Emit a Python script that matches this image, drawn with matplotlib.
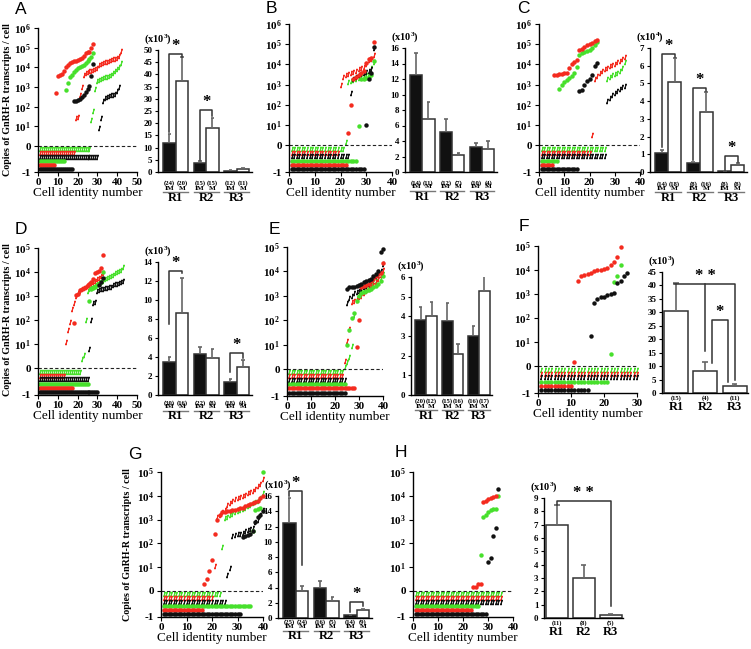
import numpy as np
import matplotlib
matplotlib.use("Agg")
import matplotlib.pyplot as plt
from matplotlib.transforms import offset_copy

plt.rcParams["font.family"] = "Liberation Serif"
plt.rcParams["font.weight"] = "bold"
plt.rcParams["mathtext.fontset"] = "custom"
plt.rcParams["mathtext.rm"] = "Liberation Serif:bold"
plt.rcParams["mathtext.it"] = "Liberation Serif:bold"
plt.rcParams["mathtext.bf"] = "Liberation Serif:bold"
plt.rcParams["axes.linewidth"] = 1.0

# ---- single-cell data: log10(copies / cell) of detected cells, per series ----
# undetected counts order: green tick, red tick, black tick, green dot, red dot, black dot
a_undetected = [26, 18, 30, 13, 8, 17]
a_green_tick = [1.3, 1.8, 2.9, 3.3, 3.35, 3.4, 3.45, 3.5, 3.5, 3.55, 3.6, 3.7, 3.8, 3.9, 4.0, 4.2]
a_red_tick = [1.4, 1.5, 2.6, 3.0, 3.6, 3.7, 3.75, 3.8, 3.8, 3.85, 3.9, 3.95, 4.1, 4.15, 4.2, 4.25,
              4.25, 4.3, 4.35, 4.4, 4.4, 4.45, 4.6, 4.85]
a_black_tick = [0.9, 1.45, 2.3, 2.45, 2.5, 2.55, 2.6, 2.6, 2.65, 2.8, 3.0]
a_green_dot = [2.85, 3.2, 3.5, 3.6, 3.75, 3.85, 3.95, 4.0, 4.05, 4.1, 4.2, 4.3, 4.4, 4.55, 4.75]
a_red_dot = [2.7, 3.55, 3.6, 3.65, 3.8, 4.0, 4.1, 4.2, 4.25, 4.3, 4.3, 4.35, 4.4, 4.5, 4.6, 4.75,
             4.8, 4.8, 5.0, 5.2]
a_black_dot = [2.3, 2.3, 2.35, 2.4, 2.5, 2.6, 2.75, 2.9, 3.05, 3.55, 4.15]

b_undetected = [21, 19, 23, 26, 22, 29]
b_green_tick = [0.15, 3.15, 3.2, 3.25, 3.3, 3.35, 3.4, 3.45, 3.5, 3.6, 3.8, 4.1]
b_red_tick = [3.0, 3.4, 3.5, 3.55, 3.6, 3.65, 3.7, 3.75, 3.8, 3.85, 4.0, 4.2, 4.25, 4.45]
b_black_tick = [2.6, 3.3, 3.4, 3.5, 3.55, 3.6, 3.65, 3.7, 3.75, 4.8]
b_green_dot = [0.95, 3.3, 3.3, 3.35, 3.4, 3.5, 4.15]
b_red_dot = [0.6, 2.0, 3.3, 3.4, 3.5, 3.6, 3.7, 4.05, 4.25, 4.3, 5.1]
b_black_dot = [1.0, 3.3, 3.6, 4.85]

c_undetected = [26, 20, 26, 7, 5, 15]
c_green_tick = [3.3, 3.4, 3.5, 3.55, 3.6, 3.7, 3.8, 4.1]
c_red_tick = [0.5, 3.3, 3.45, 3.6, 3.7, 3.75, 3.8, 3.9, 3.95, 4.0, 4.1, 4.15, 4.25, 4.35]
c_black_tick = [2.2, 2.35, 2.5, 2.6, 2.7, 2.8, 2.9, 2.95]
c_green_dot = [2.8, 3.0, 3.15, 3.25, 3.35, 3.45, 3.6, 3.85, 4.45, 4.55, 4.6, 4.65, 4.7, 4.8, 4.95, 5.1]
c_red_dot = [3.5, 3.5, 3.55, 3.55, 3.6, 3.6, 3.8, 4.0, 4.1, 4.2, 4.7, 4.75, 4.85, 4.95, 5.0, 5.05,
             5.15, 5.2]
c_black_dot = [2.7, 2.75, 3.0, 3.2, 3.3, 3.5, 3.9, 4.05]

d_undetected = [21, 13, 25, 25, 17, 30]
d_green_tick = [0.4, 0.55, 2.0, 3.2, 3.3, 3.35, 3.4, 3.45, 3.5, 3.55, 3.6, 3.65, 3.7, 3.75, 3.8,
                3.85, 3.9, 3.95, 4.0, 4.05, 4.1, 4.2]
d_red_tick = [1.1, 1.6, 1.95, 2.45, 2.7, 3.0, 3.15, 3.2, 3.3, 3.35, 3.4, 3.45, 3.5, 3.55, 3.6,
              3.65, 3.7, 3.75, 3.85, 3.95]
d_black_tick = [0.8, 2.0, 2.7, 2.75, 3.2, 3.25, 3.3, 3.3, 3.35, 3.35, 3.4, 3.4, 3.45, 3.5, 3.5,
                3.55, 3.6, 3.65]
d_green_dot = [2.8, 3.3, 3.35, 3.4, 3.45, 3.5, 3.6, 4.0]
d_red_dot = [1.9, 3.05, 3.1, 3.25, 3.3, 3.35, 3.4, 3.45, 3.5, 3.6, 3.7, 3.95, 4.0, 4.05, 4.15, 4.7]
d_black_dot = [3.45, 3.6, 3.75]

e_undetected = [23, 23, 24, 24, 28, 24]
e_green_tick = [0.1, 0.3, 0.5, 0.95, 2.2, 2.9, 3.05, 3.15, 3.25, 3.3, 3.4, 3.5, 3.55, 3.6, 3.7,
                3.75, 3.9]
e_red_tick = [0.35, 1.15, 1.65, 2.75, 2.8, 2.85, 2.95, 3.0, 3.1, 3.2, 3.3, 3.35, 3.45, 3.55, 3.7,
              3.85, 4.05]
e_black_tick = [2.7, 2.9, 3.0, 3.1, 3.15, 3.2, 3.3, 3.35, 3.4, 3.5, 3.6, 3.7, 3.8, 3.9, 4.0, 4.3]
e_green_dot = [1.0, 1.6, 2.1, 2.3, 2.8, 3.0, 3.1, 3.15, 3.2, 3.25, 3.3, 3.35, 3.4, 3.5, 3.6, 3.8]
e_red_dot = [0.9, 2.0, 3.35, 3.4, 3.45, 3.5, 3.6, 3.7, 3.8, 3.9, 3.95, 4.35]
e_black_dot = [3.3, 3.35, 3.35, 3.37, 3.4, 3.45, 3.5, 3.55, 3.6, 3.65, 3.7, 3.8, 3.9, 4.0, 4.8, 4.9]

f_undetected = [30, 30, 30, 21, 10, 15]
f_green_tick = []
f_red_tick = []
f_black_tick = []
f_green_dot = [0.5, 3.5, 3.75, 4.2]
f_red_dot = [0.2, 3.55, 3.75, 3.8, 3.85, 3.9, 3.95, 4.0, 4.0, 4.05, 4.1, 4.2, 4.35, 4.55, 4.95]
f_black_dot = [1.25, 2.65, 2.8, 2.9, 2.9, 2.95, 3.0, 3.05, 3.45, 3.55, 3.75, 3.9]

g_undetected = [23, 20, 25, 35, 16, 31]
g_green_tick = [1.85, 3.05, 3.1, 3.2, 3.25, 3.3, 3.35, 3.4, 3.45, 3.5, 3.55, 3.6, 3.7, 3.75, 3.8,
                3.9, 4.1]
g_red_tick = [1.05, 3.1, 3.2, 3.3, 3.4, 3.6, 3.7, 3.8, 3.85, 3.9, 3.95, 4.0, 4.05, 4.1, 4.15, 4.2,
              4.3, 4.4, 4.5, 4.7]
g_black_tick = [0.65, 0.95, 2.3, 2.35, 2.4, 2.4, 2.45, 2.5, 2.55, 2.6, 2.65, 2.9, 3.0, 3.2, 3.4]
g_green_dot = [2.5, 3.4, 3.45, 3.5, 5.0]
g_red_dot = [0.3, 0.5, 0.85, 1.3, 2.4, 3.0, 3.2, 3.3, 3.3, 3.35, 3.35, 3.4, 3.4, 3.45, 3.5, 3.5,
             3.55, 3.6, 3.65, 3.7, 3.75, 3.8, 3.9, 4.0]
g_black_dot = [2.25, 2.3, 2.35, 2.4, 2.5, 2.9, 3.1, 3.2, 3.35]

h_undetected = [35, 35, 35, 26, 23, 29]
h_green_tick = []
h_red_tick = []
h_black_tick = []
h_green_dot = [1.5, 3.1, 3.2, 3.3, 3.4, 3.45, 3.45, 4.0]
h_red_dot = [0.15, 0.15, 0.3, 0.3, 3.75, 3.8, 3.85, 3.9, 3.95, 4.0]
h_black_dot = [1.2, 1.4, 2.3, 2.65, 4.3]

# ---- bar data (mean, upper error) ----
regions = ["R1", "R2", "R3"]
a_im, a_im_err, a_m, a_m_err = [12, 3.5, 0.5], [3.5, 1.0, 0.2], [37.5, 18, 1.2], [9.5, 4, 0.3]
a_n_im, a_n_m = [24, 15, 12], [20, 15, 11]
b_im, b_im_err, b_m, b_m_err = [12.5, 5.1, 3.2], [2.8, 1.8, 0.5], [6.8, 2.2, 3.0], [2.2, 0.2, 1.0]
b_n_im, b_n_m = [14, 12, 10], [11, 7, 4]
c_im, c_im_err, c_m, c_m_err = [1.05, 0.5, 0.05], [0.2, 0.08, 0.02], [5.1, 3.4, 0.38], [1.35, 1.1, 0.12]
c_n_im, c_n_m = [14, 8, 8], [18, 16, 8]
d_im, d_im_err, d_m, d_m_err = [3.5, 4.3, 1.4], [0.5, 0.8, 0.3], [8.6, 3.9, 3.0], [3.7, 0.9, 0.7]
d_n_im, d_n_m = [30, 22, 18], [16, 8, 4]
e_im, e_im_err, e_m, e_m_err = [3.8, 3.75, 3.0], [0.7, 0.95, 0.5], [4.0, 2.1, 5.3], [0.75, 0.5, 0.9]
e_n_im, e_n_m = [20, 15, 16], [12, 16, 17]
f_mean, f_err, f_n = [30.5, 8, 2.5], [10.5, 3.5, 1.0], [15, 4, 11]
g_im, g_im_err, g_m, g_m_err = [12.5, 3.9, 0.35], [3.2, 0.9, 0.1], [3.5, 2.2, 1.0], [0.7, 0.6, 0.15]
g_n_im, g_n_m = [25, 16, 14], [24, 5, 9]
h_mean, h_err, h_n = [7.0, 3.0, 0.2], [1.45, 1.0, 0.1], [11, 8, 5]

RED = "#f42b1f"
GREEN = "#47e02c"
BLACK = "#111111"
EDGE = "#333333"
ERR = "#666666"
SERIES = [("tick", GREEN), ("tick", RED), ("tick", BLACK),
          ("dot", GREEN), ("dot", RED), ("dot", BLACK)]
ROW_FRAC = [0.12, 0.27, 0.41, 0.57, 0.72, 0.87]
TICK = (2, 2, -15)

W, H, DPI = 751, 649, 100
fig = plt.figure(figsize=(W / DPI, H / DPI), dpi=DPI)


def place(box):
    l, r, t, b = box
    return fig.add_axes([l / W, 1 - b / H, (r - l) / W, (b - t) / H])


def below(ax, px):
    return offset_copy(ax.get_xaxis_transform(), fig=fig, x=0, y=-px * 72 / DPI, units="points")


def scatter_panel(box, undetected, detected, xmax, top):
    ax = place(box)
    neg = -1.32 if top == 6 else -1.1
    for (kind, color), n0, vals, frac in zip(SERIES, undetected, detected, ROW_FRAC):
        marker = "o" if kind == "dot" else TICK
        style = dict(ls="none", color=color, marker=marker, clip_on=False)
        if kind == "dot":
            style.update(ms=3.2, mec="none")
        else:
            style.update(ms=4.0, mew=0.8)
        ax.plot(np.arange(1, n0 + 1), np.full(n0, neg * frac), **style)
        ax.plot(np.arange(n0 + 1, n0 + 1 + len(vals)), vals, **style)
    ax.axhline(0, color="#222222", lw=0.8, ls=(0, (3, 2)))
    ax.set_xlim(0, xmax)
    ax.set_ylim(neg, top)
    ax.set_xticks(np.arange(0, xmax + 1, 10))
    ax.set_yticks([neg, 0] + list(range(1, top + 1)),
                  ["-1", "0"] + [f"$10^{{{k}}}$" for k in range(1, top + 1)])
    ax.tick_params(axis="y", labelsize=8, length=3, pad=2)
    ax.tick_params(axis="x", labelsize=8, length=3, pad=1.5)
    for s in ["top", "right"]:
        ax.spines[s].set_visible(False)
    ax.set_xlabel("Cell identity number", fontsize=9.5, labelpad=0)
    return ax


def finish_bars(ax, ymax, step, scale):
    ax.set_ylim(0, ymax)
    ax.set_yticks(np.arange(0, ymax + step / 2, step))
    ax.set_xticks([])
    ax.tick_params(axis="y", labelsize=6.5, length=2.5, pad=1.5)
    for s in ["top", "right"]:
        ax.spines[s].set_visible(False)
    ax.text(0, 1, f"(x10$^{{{scale}}}$)", transform=offset_copy(ax.transAxes, fig=fig, y=3, units="points"),
            ha="center", va="bottom", fontsize=7.5)


def err_lines(ax, x, y, e, hw):
    x, y, e = np.asarray(x), np.asarray(y), np.asarray(e)
    ax.vlines(x, y, y + e, color=ERR, lw=1.2)
    ax.hlines(y + e, x - hw, x + hw, color=ERR, lw=1.2)


def paired_bars(box, im, im_err, m, m_err, n_im, n_m, ymax, step, offs, scale=3):
    ax = place(box)
    x = np.arange(len(regions))
    w = 0.41
    ax.bar(x - w / 2, im, w, color=BLACK, edgecolor=EDGE, lw=1.1)
    ax.bar(x + w / 2, m, w, color="white", edgecolor=EDGE, lw=1.1)
    err_lines(ax, x - w / 2, im, im_err, 0.06)
    err_lines(ax, x + w / 2, m, m_err, 0.06)
    ax.set_xlim(-0.58, 2.5)
    o_n, o_lab, o_line, o_reg = offs
    for xi, r, ni, nm in zip(x, regions, n_im, n_m):
        ax.text(xi - w / 2, 0, f"({ni})", transform=below(ax, o_n), ha="center", va="center", fontsize=4.8)
        ax.text(xi + w / 2, 0, f"({nm})", transform=below(ax, o_n), ha="center", va="center", fontsize=4.8)
        ax.text(xi - w / 2, 0, "IM", transform=below(ax, o_lab), ha="center", va="center", fontsize=5.2)
        ax.text(xi + w / 2, 0, "M", transform=below(ax, o_lab), ha="center", va="center", fontsize=5.2)
        ax.plot([xi - w, xi + w], [0, 0], transform=below(ax, o_line), color="#777777", lw=1, clip_on=False)
        ax.text(xi, 0, r, transform=below(ax, o_reg), ha="center", va="center", fontsize=9)
    finish_bars(ax, ymax, step, scale)
    return ax


def single_bars(box, mean, err, n, ymax, step, offs):
    ax = place(box)
    x = np.arange(len(regions))
    ax.bar(x, mean, 0.82, color="white", edgecolor=EDGE, lw=1.1)
    err_lines(ax, x, mean, err, 0.1)
    ax.set_xlim(-0.48, 2.46)
    for xi, r, ni in zip(x, regions, n):
        ax.text(xi, 0, f"({ni})", transform=below(ax, offs[0]), ha="center", va="center", fontsize=4.6)
        ax.text(xi, 0, r, transform=below(ax, offs[1]), ha="center", va="center", fontsize=9)
    finish_bars(ax, ymax, step, 3)
    return ax


def bracket(ax, x1, x2, y, y1, y2, stars):
    ax.plot([x1, x1, x2, x2], [y1, y, y, y2], color=EDGE, lw=1.1, clip_on=False)
    ax.text((x1 + x2) / 2, y, stars, ha="center", va="bottom", fontsize=12)


# ---- scatter panels ----
scatter_panel((38, 137, 28, 172), a_undetected,
              [a_green_tick, a_red_tick, a_black_tick, a_green_dot, a_red_dot, a_black_dot], 50, 6)
scatter_panel((289, 392, 24, 172), b_undetected,
              [b_green_tick, b_red_tick, b_black_tick, b_green_dot, b_red_dot, b_black_dot], 40, 6)
scatter_panel((539, 640, 24, 172), c_undetected,
              [c_green_tick, c_red_tick, c_black_tick, c_green_dot, c_red_dot, c_black_dot], 40, 6)
scatter_panel((38, 137, 248, 395), d_undetected,
              [d_green_tick, d_red_tick, d_black_tick, d_green_dot, d_red_dot, d_black_dot], 50, 5)
scatter_panel((287, 383, 247, 396), e_undetected,
              [e_green_tick, e_red_tick, e_black_tick, e_green_dot, e_red_dot, e_black_dot], 40, 5)
scatter_panel((538, 637, 246, 393), f_undetected,
              [f_green_tick, f_red_tick, f_black_tick, f_green_dot, f_red_dot, f_black_dot], 30, 5)
scatter_panel((161, 263, 472, 617), g_undetected,
              [g_green_tick, g_red_tick, g_black_tick, g_green_dot, g_red_dot, g_black_dot], 40, 5)
scatter_panel((413, 513, 472, 617), h_undetected,
              [h_green_tick, h_red_tick, h_black_tick, h_green_dot, h_red_dot, h_black_dot], 40, 5)

# ---- bar panels ----
ax = paired_bars((158, 252, 50, 172), a_im, a_im_err, a_m, a_m_err, a_n_im, a_n_m, 50, 5,
                 (11, 16, 20, 26))
bracket(ax, -0.205, 0.205, 48.5, 16.5, 47.3, "*")
bracket(ax, 0.795, 1.205, 25.5, 5.0, 23.0, "*")

paired_bars((405, 497, 48, 172), b_im, b_im_err, b_m, b_m_err, b_n_im, b_n_m, 16, 2,
            (11, 15, 19, 25))

ax = paired_bars((650, 747, 48, 172), c_im, c_im_err, c_m, c_m_err, c_n_im, c_n_m, 7, 1,
                 (12, 17, 20, 26), scale=4)
bracket(ax, -0.205, 0.205, 6.65, 1.4, 6.5, "*")
bracket(ax, 0.795, 1.205, 4.75, 0.7, 4.55, "*")
bracket(ax, 1.795, 2.205, 0.9, 0.12, 0.55, "*")

ax = paired_bars((158, 252, 262, 395), d_im, d_im_err, d_m, d_m_err, d_n_im, d_n_m, 14, 2,
                 (8, 12, 16, 21))
bracket(ax, -0.205, 0.205, 13.1, 7.5, 12.8, "*")
bracket(ax, 1.795, 2.205, 4.45, 2.45, 3.9, "*")

paired_bars((411, 492, 277, 395), e_im, e_im_err, e_m, e_m_err, e_n_im, e_n_m, 6, 1,
            (6, 11, 15, 21))

ax = single_bars((662, 748, 272, 393), f_mean, f_err, f_n, 45, 5, (5, 14))
ax.plot([-0.08, 2, 2], [40.5, 40.5, 5.0], color=EDGE, lw=1.1)
ax.plot([1, 1], [40.5, 15.5], color=EDGE, lw=1.1)
ax.text(1, 40.5, "* *", ha="center", va="bottom", fontsize=12)
bracket(ax, 1.22, 1.76, 27, 11, 4, "*")

ax = paired_bars((278, 372, 496, 618), g_im, g_im_err, g_m, g_m_err, g_n_im, g_n_m, 16, 2,
                 (4.5, 9, 12.5, 18))
bracket(ax, -0.205, 0.205, 16.7, 16.0, 6.9, "*")
bracket(ax, 1.795, 2.205, 2.1, 0.8, 1.6, "*")

ax = single_bars((544, 623, 498, 618), h_mean, h_err, h_n, 9, 1, (5, 14))
bracket(ax, 0, 2, 8.8, 8.5, 0.9, "* *")

# ---- panel letters and shared y labels ----
for letter, (lx, ly) in {"A": (15, 2), "B": (266, 1), "C": (517, 1), "D": (15, 222),
                         "E": (269, 222), "F": (519, 219), "G": (128, 447), "H": (395, 445)}.items():
    fig.text(lx / W, 1 - ly / H, letter, ha="left", va="top", fontsize=12.5,
             family="Liberation Sans", weight="normal")
for yx, yc in [(8, 100), (8, 320), (128, 545)]:
    fig.text(yx / W, 1 - yc / H, "Copies of GnRH-R transcripts / cell", rotation=90,
             ha="center", va="center", fontsize=7.2)

fig.savefig("out.png", dpi=DPI)
